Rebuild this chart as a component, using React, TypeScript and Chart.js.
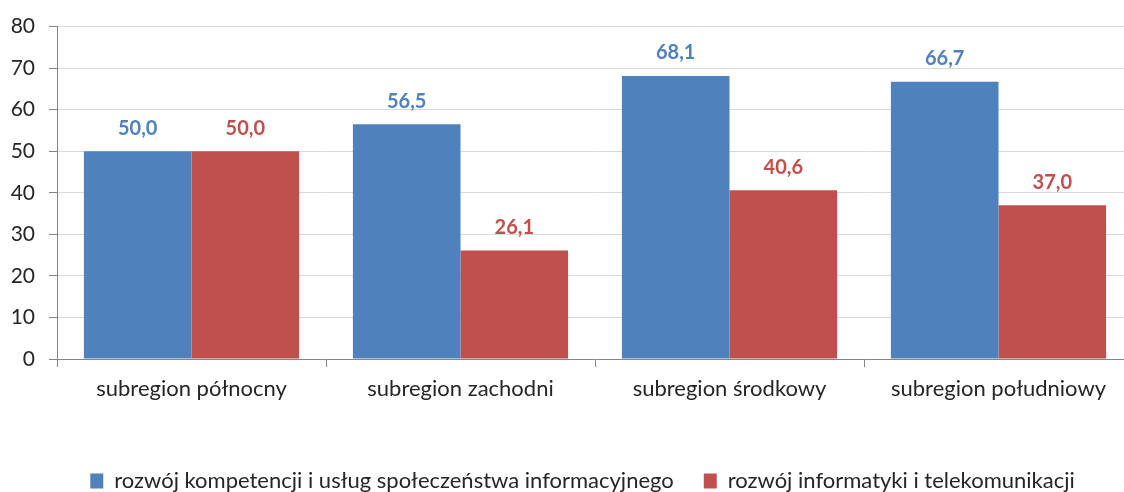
import React, { useEffect, useRef } from "react";
import { Chart, registerables } from "chart.js";

Chart.register(...registerables);

const categories = ["subregion północny", "subregion zachodni", "subregion środkowy", "subregion południowy"];
const seriesNames = ["rozwój kompetencji i usług społeczeństwa informacyjnego", "rozwój informatyki i telekomunikacji"];
const competenceValues = [50.0, 56.5, 68.1, 66.7];
const itValues = [50.0, 26.1, 40.6, 37.0];
const yTicks = [0, 10, 20, 30, 40, 50, 60, 70, 80];

const BLUE = "#4F81BD";
const RED = "#C0504D";
const FONT = "Lato, 'Open Sans', sans-serif";

const valueLabels = {
  id: "valueLabels",
  afterDatasetsDraw(chart: any) {
    const ctx = chart.ctx;
    ctx.save();
    ctx.font = `bold 20px ${FONT}`;
    ctx.textAlign = "center";
    ctx.textBaseline = "middle";
    chart.data.datasets.forEach((ds: any, i: number) => {
      const meta = chart.getDatasetMeta(i);
      ctx.fillStyle = ds.backgroundColor;
      meta.data.forEach((bar: any, j: number) => {
        const v = ds.data[j] as number;
        ctx.fillText(v.toFixed(1).replace(".", ","), bar.x, bar.y - 23);
      });
    });
    ctx.restore();
  },
};

const legendShift = {
  id: "legendShift",
  afterLayout(chart: any) {
    const lg = chart.legend;
    if (lg) {
      lg.left += 16;
      lg.right += 16;
      lg.top += 10;
      lg.bottom += 10;
    }
  },
};

export default function App() {
  const ref = useRef<HTMLCanvasElement | null>(null);
  useEffect(() => {
    if (!ref.current) return;
    const chart = new Chart(ref.current, {
      type: "bar",
      data: {
        labels: categories,
        datasets: [
          { label: seriesNames[0], data: competenceValues, backgroundColor: BLUE, categoryPercentage: 0.8, barPercentage: 1.0 },
          { label: seriesNames[1], data: itValues, backgroundColor: RED, categoryPercentage: 0.8, barPercentage: 1.0 },
        ],
      },
      options: {
        animation: false,
        responsive: true,
        maintainAspectRatio: false,
        layout: { padding: { top: 22, left: 0, right: 33, bottom: 0 } },
        plugins: {
          tooltip: { enabled: false },
          legend: {
            position: "bottom",
            labels: {
              boxWidth: 13,
              boxHeight: 15,
              padding: 30,
              color: "#262626",
              font: { family: FONT, size: 22 },
            },
          },
        },
        scales: {
          x: {
            offset: true,
            grid: { display: true, drawOnChartArea: false, drawTicks: true, tickLength: 8, color: "#868686", offset: true },
            border: { display: true, color: "#868686", width: 1 },
            ticks: { color: "#262626", font: { family: FONT, size: 22 }, padding: 9, maxRotation: 0 },
            afterFit: (s: any) => { s.height = 71; },
          },
          y: {
            min: 0,
            max: 80,
            afterBuildTicks: (s: any) => { s.ticks = yTicks.map((v) => ({ value: v })); },
            grid: { color: "#D9D9D9", tickColor: "#868686", tickLength: 8, drawTicks: true },
            border: { display: true, color: "#868686", width: 1 },
            ticks: { color: "#262626", font: { family: FONT, size: 21 }, padding: 14 },
            afterFit: (s: any) => { s.width = 57; },
          },
        },
      },
      plugins: [valueLabels, legendShift],
    });
    return () => chart.destroy();
  }, []);
  return (
    <div style={{ position: "fixed", left: 0, top: 0, width: 1124, height: 492, overflow: "hidden", background: "#fff" }}>
      <div style={{ position: "relative", width: 1166, height: 492 }}>
        <canvas ref={ref} />
      </div>
    </div>
  );
}
